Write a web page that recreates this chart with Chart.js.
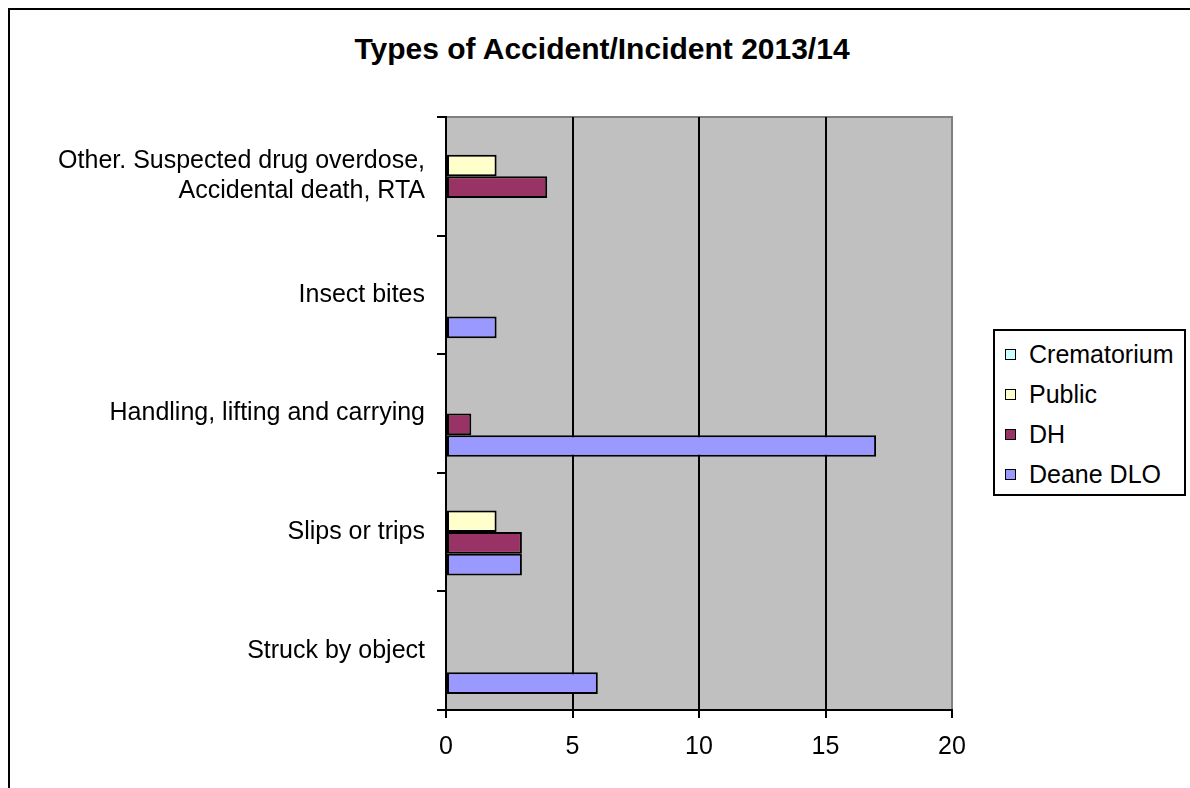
<!DOCTYPE html>
<html>
<head>
<meta charset="utf-8">
<script src="https://cdn.jsdelivr.net/npm/chart.js@4.4.1/dist/chart.umd.min.js"></script>
<style>
  html, body { margin: 0; padding: 0; background: #fff; overflow: hidden; }
  #wrap { position: relative; width: 1190px; height: 788px; font-family: "Liberation Sans", Arial, sans-serif; }
  #frame { position: absolute; left: 8px; top: 8px; width: 1300px; height: 900px;
           border-left: 2px solid #000; border-top: 2px solid #000; box-shadow: -1px -1px 0 #888 inset; }
  #title { position: absolute; left: 0; width: 1204px; top: 34px; line-height: 30px;
           text-align: center; font-weight: bold; font-size: 30px; color: #000; }
  #myChart { position: absolute; left: 0; top: 0; }
  #legend { position: absolute; left: 993px; top: 329px; width: 189px; height: 163px;
            border: 2px solid #000; background: #fff; }
  .item { position: absolute; left: 10px; height: 30px; line-height: 30px; font-size: 25px; color: #000; white-space: nowrap; }
  .item span.box { position: absolute; left: 0; top: 10px; width: 9px; height: 9px; border: 1.5px solid #000; }
  .item span.txt { position: absolute; left: 24px; top: 0; }
</style>
</head>
<body>
<div id="wrap">
  <div id="frame"></div>
  <div id="title">Types of Accident/Incident 2013/14</div>
  <canvas id="myChart" width="1190" height="788"></canvas>
  <div id="legend"></div>
</div>
<script>
// categorias (de cima para baixo)
const categorias = [
  ['Other. Suspected drug overdose,', 'Accidental death, RTA'],
  'Insect bites',
  'Handling, lifting and carrying',
  'Slips or trips',
  'Struck by object'
];

const crematorium = [0, 0, 0, 0, 0];
const publico     = [2, 0, 0, 2, 0];
const dh          = [4, 0, 1, 3, 0];
const deaneDlo    = [0, 2, 17, 3, 6];

const nomesSeries = ['Crematorium', 'Public', 'DH', 'Deane DLO'];
const coresSeries = ['#CCFFFF', '#FFFFCC', '#993366', '#9999FF'];

const eixoX = { min: 0, max: 20, passo: 5 };

const fonte = { family: '"Liberation Sans", Arial, sans-serif', size: 25 };

// fundo cinza da area do grafico
const fundoPlot = {
  id: 'fundoPlot',
  beforeDraw(chart) {
    const { ctx, chartArea: a } = chart;
    ctx.save();
    ctx.fillStyle = '#C0C0C0';
    ctx.fillRect(a.left, a.top, a.right - a.left, a.bottom - a.top);
    ctx.strokeStyle = '#808080';
    ctx.lineWidth = 2;
    ctx.beginPath();
    ctx.moveTo(a.left, a.top);
    ctx.lineTo(a.right, a.top);
    ctx.lineTo(a.right, a.bottom);
    ctx.stroke();
    ctx.restore();
  }
};

const todas = [crematorium, publico, dh, deaneDlo];

const ctx = document.getElementById('myChart').getContext('2d');
const chart = new Chart(ctx, {
  type: 'bar',
  data: {
    labels: categorias,
    datasets: todas.map((d, i) => ({
      label: nomesSeries[i],
      // zero = sem barra (evita risquinho na borda)
      data: d.map(v => v === 0 ? null : v),
      backgroundColor: coresSeries[i],
      borderColor: '#000',
      borderWidth: 2,
      borderSkipped: false,
      categoryPercentage: 0.73,
      barPercentage: 1
    }))
  },
  options: {
    indexAxis: 'y',
    responsive: false,
    animation: false,
    layout: { padding: { left: 0, top: 117, right: 238, bottom: 0 } },
    plugins: { legend: { display: false }, title: { display: false }, tooltip: { enabled: false } },
    scales: {
      x: {
        min: eixoX.min, max: eixoX.max,
        afterFit(scale) { scale.height = 78; },
        ticks: { stepSize: eixoX.passo, color: '#000', font: fonte, padding: 14 },
        grid: {
          color: c => (c.tick && c.tick.value === eixoX.max) ? '#808080' : '#000',
          tickColor: '#000',
          lineWidth: 2,
          tickLength: 8
        },
        border: { display: true, color: '#000', width: 2 }
      },
      y: {
        afterFit(scale) { scale.width = 446; },
        ticks: { color: '#000', font: fonte, padding: 12 },
        grid: { drawOnChartArea: false, tickColor: '#000', lineWidth: 2, tickLength: 9 },
        border: { display: true, color: '#000', width: 2 }
      }
    }
  },
  plugins: [fundoPlot]
});

// legenda em html
const leg = document.getElementById('legend');
nomesSeries.forEach((n, i) => {
  const el = document.createElement('div');
  el.className = 'item';
  el.style.top = (8 + i * 40) + 'px';
  el.innerHTML = `<span class="box" style="background:${coresSeries[i]}"></span><span class="txt">${n}</span>`;
  leg.appendChild(el);
});
</script>
</body>
</html>
